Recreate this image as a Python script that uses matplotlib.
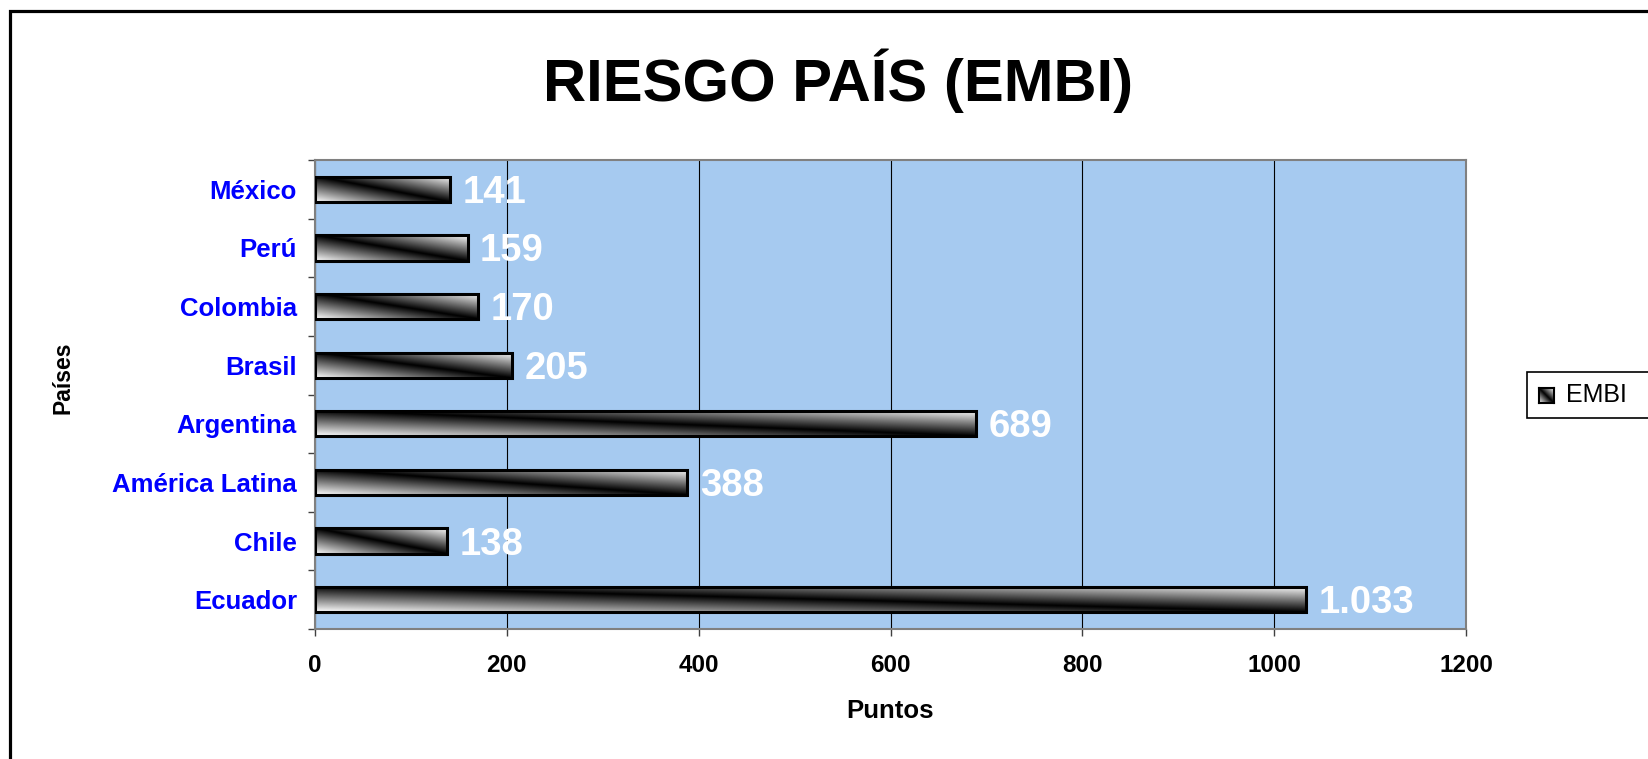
import matplotlib
matplotlib.use("Agg")
import matplotlib.pyplot as plt
import numpy as np
from matplotlib.patches import Rectangle

plt.rcParams['font.family'] = ['Liberation Sans', 'DejaVu Sans']

# EMBI por país (puntos básicos), de abajo hacia arriba
paises = ["Ecuador", "Chile", "América Latina", "Argentina",
          "Brasil", "Colombia", "Perú", "México"]
embi = [1033, 138, 388, 689, 205, 170, 159, 141]
serie = "EMBI"
xticks = [0, 200, 400, 600, 800, 1000, 1200]

W, H = 1648, 759
fig = plt.figure(figsize=(W / 100, H / 100), dpi=100)
ax = fig.add_axes([315 / W, 1 - 629 / H, (1466 - 315) / W, (629 - 160) / H])
ax.set_facecolor("#A6CAF0")

# diagonal shading used for every bar: dark along the top-left -> bottom-right diagonal
n = 200
rr, cc = np.mgrid[0:1:n * 1j, 0:1:n * 1j]
shade = np.abs(rr - cc)

y = np.arange(len(paises))
bars = ax.barh(y, embi, height=0.43, facecolor="none", edgecolor="black",
               linewidth=2.2, zorder=4)
for b, v in zip(bars, embi):
    x0, y0, w, h = b.get_x(), b.get_y(), b.get_width(), b.get_height()
    ax.imshow(shade, cmap="gray", vmin=0, vmax=1, origin="upper",
              extent=(x0, x0 + w, y0, y0 + h), aspect="auto",
              interpolation="bilinear", zorder=3)
    ax.annotate(f"{v:,}".replace(",", "."), (x0 + w, y0 + h / 2),
                xytext=(9, -2.5), textcoords="offset points", va="center",
                ha="left", color="white", fontsize=27.5, fontweight="bold",
                zorder=5)

ax.set_xlim(0, 1200)
ax.set_ylim(-0.5, len(paises) - 0.5)
ax.set_xticks(xticks)
ax.set_xticklabels([str(t) for t in xticks], fontsize=17.5, fontweight="bold")
ax.tick_params(axis="x", length=5, width=1, color="#404040", pad=13)
ax.set_yticks(y)
ax.set_yticklabels(paises, fontsize=18.5, fontweight="bold", color="#0000FF")
ax.tick_params(axis="y", which="major", length=0, pad=13)
ax.set_yticks(np.arange(-0.5, len(paises)), minor=True)
ax.tick_params(axis="y", which="minor", length=5, width=1, color="#404040")

ax.grid(axis="x", color="black", linewidth=0.8, zorder=1)
ax.set_axisbelow(True)
for s in ax.spines.values():
    s.set_color("#808080")
    s.set_linewidth(1.5)

ax.set_xlabel("Puntos", fontsize=18.5, fontweight="bold", labelpad=16)
fig.text(63 / W, 1 - 378 / H, "Países", rotation=90, fontsize=16.5,
         fontweight="bold", ha="center", va="center")

fig.text(838 / W, 1 - 101 / H, "RIESGO PAÍS (EMBI)", fontsize=43,
         fontweight="bold", ha="center", va="baseline")

# legend box, clipped by the right edge of the figure
fig.add_artist(Rectangle((1527 / W, 1 - 418 / H), 140 / W, 46 / H,
                         transform=fig.transFigure, facecolor="white",
                         edgecolor="black", linewidth=1.2, zorder=0))
lax = fig.add_axes([1539 / W, 1 - 403 / H, 15 / W, 15 / H])
lax.set_zorder(5)
lax.imshow(shade, cmap="gray", vmin=0, vmax=1, aspect="auto",
           interpolation="bilinear")
lax.set_xticks([])
lax.set_yticks([])
for s in lax.spines.values():
    s.set_linewidth(1.5)
fig.text(1566 / W, 1 - 395 / H, serie, fontsize=18, ha="left", va="center",
         zorder=6)

# outer chart border (left and top edges visible)
fig.add_artist(Rectangle((9.7 / W, -0.1), 1.2, 1 - 10.5 / H + 0.1,
                         transform=fig.transFigure, facecolor="none",
                         edgecolor="black", linewidth=2.3))

fig.savefig("out.png", dpi=100)
